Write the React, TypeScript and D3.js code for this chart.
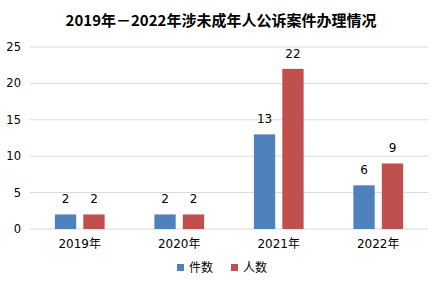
import React from "react";
import { scaleBand, scaleLinear } from "d3";

const W = 442;
const H = 290;
const MARGIN = { top: 47, right: 14, bottom: 61, left: 30 };

const TITLE = "2019年－2022年涉未成年人公诉案件办理情况";
const YEARS = ["2019年", "2020年", "2021年", "2022年"];
const SERIES = ["件数", "人数"];
const CASES = [2, 2, 13, 6];
const PEOPLE = [2, 2, 22, 9];
const Y_TICKS = [0, 5, 10, 15, 20, 25];
const COLORS = ["#4F81BD", "#C0504D"];

const LABEL_FONT = "'DejaVu Sans', 'Noto Sans CJK SC', sans-serif";
const CJK_FONT = "'Noto Sans CJK SC', sans-serif";

export default function App() {
  const innerW = W - MARGIN.left - MARGIN.right;
  const innerH = H - MARGIN.top - MARGIN.bottom;
  const values = [CASES, PEOPLE];

  const x0 = scaleBand<string>()
    .domain(YEARS)
    .range([0, innerW])
    .paddingInner(0.5)
    .paddingOuter(0.25);
  const x1 = scaleBand<string>()
    .domain(SERIES)
    .range([0, x0.bandwidth()])
    .paddingInner(0.25);
  const y = scaleLinear().domain([0, 25]).range([innerH, 0]);

  return (
    <svg
      width={W}
      height={H}
      style={{ position: "absolute", left: 0, top: 0, background: "#fff" }}
    >
      <text
        x={W / 2}
        y={26}
        textAnchor="middle"
        fontFamily={CJK_FONT}
        fontWeight="bold"
        fontSize="15px"
        fill="#000"
      >
        {TITLE}
      </text>
      <g transform={`translate(${MARGIN.left},${MARGIN.top})`}>
        {/* gridlines + y labels */}
        {Y_TICKS.map((t) => (
          <g key={t}>
            <line x1={0} x2={innerW} y1={y(t)} y2={y(t)} stroke="#D9D9D9" strokeWidth={1} />
            <text
              x={-9}
              y={y(t)}
              dy="0.35em"
              textAnchor="end"
              fontFamily={LABEL_FONT}
              fontSize="11.5px"
              fill="#000"
            >
              {t}
            </text>
          </g>
        ))}

        {/* bars with value labels */}
        {YEARS.map((yr, i) => (
          <g key={yr} transform={`translate(${x0(yr)},0)`}>
            {SERIES.map((s, j) => {
              const v = values[j][i];
              const bx = x1(s) ?? 0;
              return (
                <g key={s}>
                  <rect
                    x={bx}
                    y={y(v)}
                    width={x1.bandwidth()}
                    height={innerH - y(v)}
                    fill={COLORS[j]}
                  />
                  <text
                    x={bx + x1.bandwidth() / 2}
                    y={y(v) - 11}
                    textAnchor="middle"
                    fontFamily={LABEL_FONT}
                    fontSize="12px"
                    fill="#000"
                  >
                    {v}
                  </text>
                </g>
              );
            })}
            <text
              x={x0.bandwidth() / 2}
              y={innerH + 19}
              textAnchor="middle"
              fontFamily={LABEL_FONT}
              fontSize="12px"
              fill="#000"
            >
              {yr}
            </text>
          </g>
        ))}
      </g>

      {/* legend */}
      {SERIES.map((s, j) => (
        <g key={s} transform={`translate(${177 + j * 54},264)`}>
          <rect x={0} y={0} width={7} height={7} fill={COLORS[j]} />
          <text x={12} y={3.5} dy="0.38em" fontFamily={CJK_FONT} fontSize="12px" fill="#000">
            {s}
          </text>
        </g>
      ))}
    </svg>
  );
}
